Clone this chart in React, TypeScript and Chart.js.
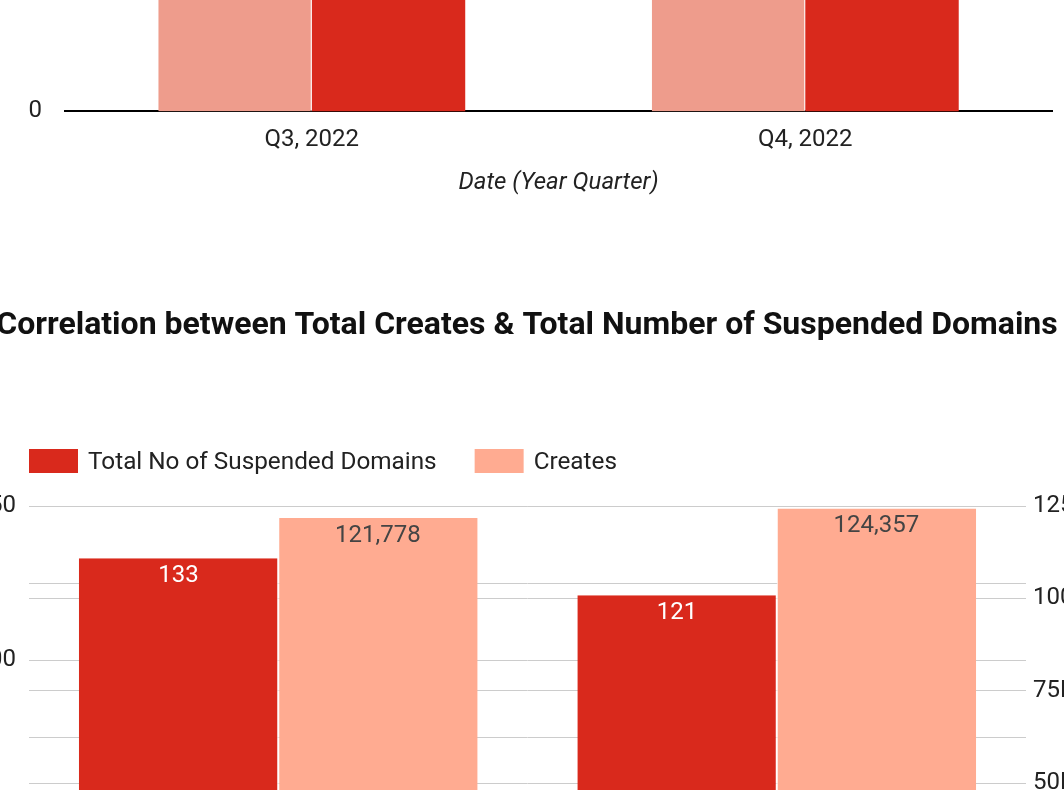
import React, { useEffect, useRef } from "react";
import { Chart, registerables } from "chart.js";

Chart.register(...registerables);

// ---------- data ----------
const quarters = ["Q3, 2022", "Q4, 2022"];

// top chart (only bottom part visible)
const topSeriesNames = ["Creates (scaled)", "Total No of Suspended Domains"];
const topLightValues = [128, 116];
const topRedValues = [133, 121];
const topTicks = [0, 100, 200];

// bottom chart
const suspendedLabel = "Total No of Suspended Domains";
const createsLabel = "Creates";
const suspendedValues = [133, 121];
const createsValues = [121778, 124357];

const leftTicks = [0, 25, 50, 75, 100, 125, 150];
const rightTicks = [0, 25000, 50000, 75000, 100000, 125000];

const RED = "#D9291C";
const LIGHT = "#EE9C8C";
const SALMON = "#FFAB91";
const FONT = "Roboto";

const valueLabelPlugin = {
  id: "valueLabels",
  afterDatasetsDraw(chart: any) {
    const ctx = chart.ctx;
    ctx.save();
    ctx.font = `24px ${FONT}`;
    ctx.textAlign = "center";
    ctx.textBaseline = "middle";
    chart.data.datasets.forEach((ds: any, di: number) => {
      const meta = chart.getDatasetMeta(di);
      ctx.fillStyle = ds.labelColor || "#444";
      meta.data.forEach((bar: any, i: number) => {
        const v = ds.data[i];
        ctx.fillText(Number(v).toLocaleString("en-US"), bar.x, bar.y + 18);
      });
    });
    ctx.restore();
  },
};

const customLegendPlugin = {
  id: "customLegend",
  afterDraw(chart: any) {
    const ctx = chart.ctx;
    const area = chart.chartArea;
    const cy = area.top - 45;
    let x = area.left;
    ctx.save();
    ctx.font = `24.3px ${FONT}`;
    ctx.textBaseline = "middle";
    ctx.textAlign = "left";
    chart.data.datasets.forEach((ds: any) => {
      ctx.fillStyle = ds.backgroundColor;
      ctx.fillRect(x, cy - 12, 49, 24);
      ctx.fillStyle = "#222";
      ctx.fillText(ds.label, x + 59, cy + 2);
      x += 59 + ctx.measureText(ds.label).width + 38;
    });
    ctx.restore();
  },
};

function TopChart() {
  const ref = useRef<HTMLCanvasElement>(null);
  useEffect(() => {
    const chart = new Chart(ref.current!, {
      type: "bar",
      data: {
        labels: quarters,
        datasets: [
          {
            label: topSeriesNames[0],
            data: topLightValues,
            backgroundColor: LIGHT,
            borderColor: "#fff",
            borderWidth: { left: 0, right: 1, top: 0, bottom: 0 },
            categoryPercentage: 0.622,
            barPercentage: 1,
          },
          {
            label: topSeriesNames[1],
            data: topRedValues,
            backgroundColor: RED,
            borderWidth: 0,
            categoryPercentage: 0.622,
            barPercentage: 1,
          },
        ],
      },
      options: {
        responsive: false,
        animation: false,
        layout: { padding: { right: 12, top: 10, bottom: 0, left: 0 } },
        plugins: { legend: { display: false }, title: { display: false }, tooltip: { enabled: false } },
        scales: {
          x: {
            grid: { display: false, drawTicks: false },
            border: { display: true, color: "#000", width: 2 },
            ticks: { font: { family: FONT, size: 24 }, color: "#222", padding: 14 },
            title: {
              display: true,
              text: "Date (Year Quarter)",
              font: { family: FONT, size: 24, style: "italic" },
              color: "#222",
              padding: { top: 0, bottom: 4 },
            },
          },
          y: {
            min: 0,
            max: 200,
            afterFit: (s: any) => {
              s.width = 65;
            },
            afterBuildTicks: (s: any) => {
              s.ticks = topTicks.map((v) => ({ value: v }));
            },
            ticks: { font: { family: FONT, size: 24 }, color: "#222", padding: 23 },
            grid: { display: false, drawTicks: false },
            border: { display: false },
          },
        },
      },
    });
    return () => chart.destroy();
  }, []);
  return (
    <canvas
      ref={ref}
      width={1064}
      height={500}
      style={{ position: "absolute", left: 0, top: -299, width: 1064, height: 500 }}
    />
  );
}

function BottomChart() {
  const ref = useRef<HTMLCanvasElement>(null);
  useEffect(() => {
    const chart = new Chart(ref.current!, {
      type: "bar",
      data: {
        labels: quarters,
        datasets: [
          {
            label: suspendedLabel,
            data: suspendedValues,
            backgroundColor: RED,
            borderColor: "#fff",
            borderWidth: { left: 0, right: 1, top: 0, bottom: 0 },
            yAxisID: "y",
            categoryPercentage: 0.8,
            barPercentage: 1,
            labelColor: "#ffffff",
          } as any,
          {
            label: createsLabel,
            data: createsValues,
            backgroundColor: SALMON,
            borderColor: "#fff",
            borderWidth: { left: 1, right: 0, top: 0, bottom: 0 },
            yAxisID: "y1",
            categoryPercentage: 0.8,
            barPercentage: 1,
            labelColor: "#444444",
          } as any,
        ],
      },
      options: {
        responsive: false,
        animation: false,
        layout: { padding: { top: 0, bottom: 12, left: 0, right: 0 } },
        plugins: {
          legend: { display: false },
          tooltip: { enabled: false },
          title: {
            display: true,
            text: "Correlation between Total Creates & Total Number of Suspended Domains",
            font: { family: FONT, size: 32, weight: "bold" },
            color: "#111",
            padding: { top: 27, bottom: 160.6 },
          },
        },
        scales: {
          x: {
            grid: { display: false, drawTicks: false },
            border: { display: false },
            afterFit: (s: any) => {
              s.height = 100;
            },
            ticks: { font: { family: FONT, size: 24 }, color: "#222", padding: 14 },
            title: {
              display: true,
              text: "Date (Year Quarter)",
              font: { family: FONT, size: 24, style: "italic" },
              color: "#222",
            },
          },
          y: {
            position: "left",
            min: 0,
            max: 150,
            afterFit: (s: any) => {
              s.width = 60;
            },
            afterBuildTicks: (s: any) => {
              s.ticks = leftTicks.map((v) => ({ value: v }));
            },
            ticks: {
              font: { family: FONT, size: 24 },
              color: "#222",
              padding: 13,
              callback: (v: any) => (Number(v) % 50 === 0 ? String(v) : ""),
            },
            grid: { color: "#cccccc", lineWidth: 1, drawTicks: false },
            border: { display: false },
          },
          y1: {
            position: "right",
            min: 0,
            max: 125000,
            afterFit: (s: any) => {
              s.width = 59;
            },
            afterBuildTicks: (s: any) => {
              s.ticks = rightTicks.map((v) => ({ value: v }));
            },
            ticks: {
              font: { family: FONT, size: 24 },
              color: "#222",
              padding: 7,
              callback: (v: any) => (Number(v) === 0 ? "0" : Number(v) / 1000 + "K"),
            },
            grid: { color: "#cccccc", lineWidth: 1, drawTicks: false },
            border: { display: false },
          },
        },
      },
      plugins: [valueLabelPlugin, customLegendPlugin],
    });
    return () => chart.destroy();
  }, []);
  return (
    <canvas
      ref={ref}
      width={1116}
      height={800}
      style={{ position: "absolute", left: -31, top: 280, width: 1116, height: 800 }}
    />
  );
}

export default function App() {
  return (
    <div
      style={{
        position: "fixed",
        left: 0,
        top: 0,
        width: 1064,
        height: 790,
        overflow: "hidden",
        background: "#fff",
      }}
    >
      <TopChart />
      <BottomChart />
    </div>
  );
}
